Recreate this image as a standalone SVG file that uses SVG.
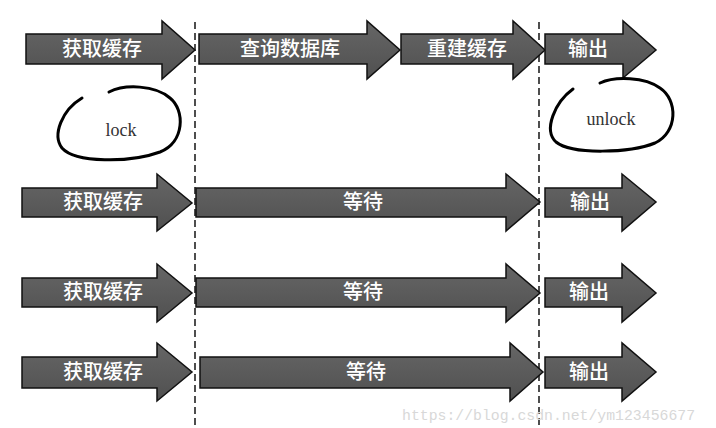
<svg xmlns="http://www.w3.org/2000/svg" width="716" height="428" viewBox="0 0 716 428">
<defs>
<linearGradient id="g" x1="0" y1="0" x2="0" y2="1">
<stop offset="0" stop-color="#666"/>
<stop offset="1" stop-color="#505050"/>
</linearGradient>
<style>
.ar{fill:url(#g);stroke:#111;stroke-width:1.5;stroke-linejoin:miter}
.t{fill:#fff;font-family:"Noto Sans CJK SC","Noto Sans",sans-serif;font-size:20px;font-weight:500;text-anchor:middle}
.dash{stroke:#222;stroke-width:1.6;stroke-dasharray:7,4;fill:none}
.loop{fill:none;stroke:#000;stroke-width:3;stroke-linecap:round}
.hw{fill:#333;font-family:"Liberation Serif",serif;font-size:18px;text-anchor:middle}
.wm{fill:#d8d8d8;font-family:"Liberation Mono",monospace;font-size:14.8px}
</style>
</defs>
<rect width="716" height="428" fill="#fff"/>
<g id="connectors">
<line class="dash" x1="195" y1="22" x2="195" y2="428"/>
<line class="dash" x1="539" y1="22" x2="539" y2="428"/>
</g>
<g id="r1a"><polygon class="ar" points="26,34 162,34 162,21 195,50 162,79 162,64 26,64"/><text class="t" x="102" y="56">获取缓存</text></g>
<g id="r1b"><polygon class="ar" points="199,34 367,34 367,21 400,50 367,79 367,64 199,64"/><text class="t" x="290" y="56">查询数据库</text></g>
<g id="r1c"><polygon class="ar" points="401,34 513,34 513,21 545,50 513,79 513,64 401,64"/><text class="t" x="467" y="56">重建缓存</text></g>
<g id="r1d"><polygon class="ar" points="545,34 623,34 623,21 656,50 623,78 623,64 545,64"/><text class="t" x="588" y="56">输出</text></g>
<g id="r2a"><polygon class="ar" points="22,188 157,188 157,174 192,203 157,231 157,217 22,217"/><text class="t" x="103" y="209">获取缓存</text></g>
<g id="r2b"><polygon class="ar" points="196,188 506,188 506,174 540,202 506,231 506,217 196,217"/><text class="t" x="363" y="209">等待</text></g>
<g id="r2c"><polygon class="ar" points="545,188 622,188 622,174 656,202 622,231 622,217 545,217"/><text class="t" x="590" y="209">输出</text></g>
<g id="r3a"><polygon class="ar" points="22,278 157,278 157,264 192,293 157,322 157,307 22,307"/><text class="t" x="103" y="299">获取缓存</text></g>
<g id="r3b"><polygon class="ar" points="196,278 506,278 506,264 540,293 506,322 506,307 196,307"/><text class="t" x="363" y="299">等待</text></g>
<g id="r3c"><polygon class="ar" points="545,278 622,278 622,264 656,293 622,322 622,307 545,307"/><text class="t" x="589" y="299">输出</text></g>
<g id="r4a"><polygon class="ar" points="22,357 157,357 157,343 192,372 157,401 157,388 22,388"/><text class="t" x="103" y="379">获取缓存</text></g>
<g id="r4b"><polygon class="ar" points="200,357 510,357 510,343 543,372 510,401 510,388 200,388"/><text class="t" x="366" y="379">等待</text></g>
<g id="r4c"><polygon class="ar" points="545,357 622,357 622,343 656,372 622,401 622,388 545,388"/><text class="t" x="589" y="379">输出</text></g>
<g id="lock">
<path class="loop" d="M82,98 C62,110 52,135 62,148 C75,163 130,163 160,152 C185,142 185,110 170,98 C155,85 125,84 109,92"/>
<text class="hw" x="121" y="136">lock</text>
</g>
<g id="unlock">
<path class="loop" d="M573,89 C555,102 543,130 556,142 C572,155 630,153 655,143 C678,132 678,100 660,88 C645,77 615,76 600,83"/>
<text class="hw" x="611" y="125">unlock</text>
</g>
<text class="wm" x="402" y="420">https://blog.csdn.net/ym123456677</text>
</svg>
